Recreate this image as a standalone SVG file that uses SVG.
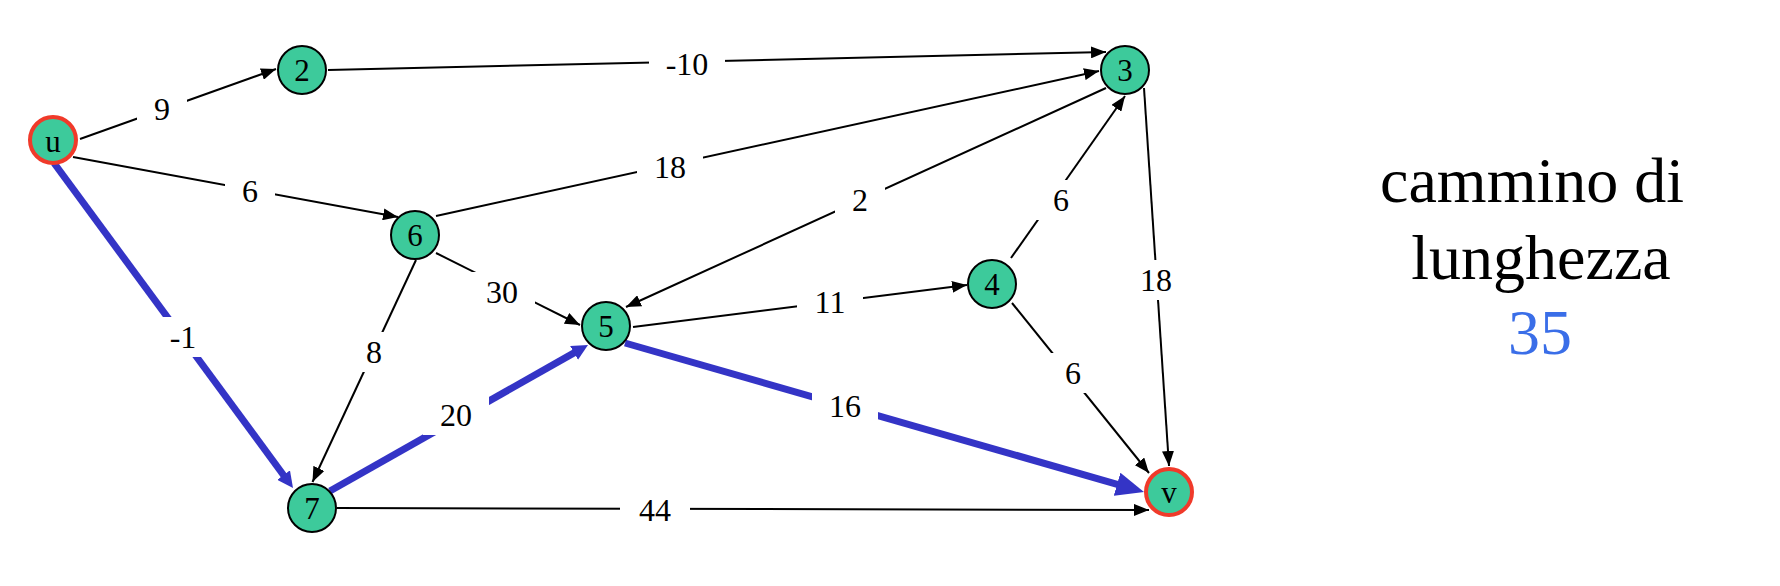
<svg xmlns="http://www.w3.org/2000/svg" width="1780" height="586" viewBox="0 0 1780 586">
<style>
.e{stroke:#000;stroke-width:2;fill:none}
.b{stroke:#3434c6;stroke-width:7;fill:none}
.lb{fill:#fff}
.lt{font-family:"Liberation Serif",serif;font-size:32px;text-anchor:middle;fill:#000}
.n{fill:#3dca9b;stroke:#000;stroke-width:2}
.s{fill:#3dca9b;stroke:#f03a2a;stroke-width:4}
.nt{font-family:"Liberation Serif",serif;font-size:31px;text-anchor:middle;fill:#000}
.big{font-family:"Liberation Serif",serif;font-size:64px;text-anchor:middle;fill:#000}
</style>
<defs>
<marker id="ah" markerUnits="userSpaceOnUse" markerWidth="16" markerHeight="12" refX="15" refY="6" orient="auto"><path d="M0,0 L15,6 L0,12 z" fill="#000"/></marker>
<marker id="bs" markerUnits="userSpaceOnUse" markerWidth="18" markerHeight="16" refX="2" refY="8" orient="auto"><path d="M0,0 L16,8 L0,16 z" fill="#3434c6"/></marker>
<marker id="bb" markerUnits="userSpaceOnUse" markerWidth="30" markerHeight="24" refX="2" refY="12" orient="auto"><path d="M0,0 L28,12 L0,24 z" fill="#3434c6"/></marker>
</defs>
<rect width="1780" height="586" fill="#fff"/>
<g id="connectors">
<g id="e-u-2"><line class="e" x1="80" y1="139" x2="276" y2="69" marker-end="url(#ah)"/><rect class="lb" x="137" y="89" width="50" height="40"/><text class="lt" x="162" y="120">9</text></g>
<g id="e-u-6"><line class="e" x1="73" y1="157" x2="398" y2="217" marker-end="url(#ah)"/><rect class="lb" x="225" y="171" width="50" height="40"/><text class="lt" x="250" y="202">6</text></g>
<g id="e-2-3"><line class="e" x1="328" y1="70" x2="1106" y2="52" marker-end="url(#ah)"/><rect class="lb" x="649" y="44" width="76" height="40"/><text class="lt" x="687" y="75">-10</text></g>
<g id="e-6-3"><line class="e" x1="436" y1="216" x2="1099" y2="71" marker-end="url(#ah)"/><rect class="lb" x="637" y="147" width="66" height="40"/><text class="lt" x="670" y="178">18</text></g>
<g id="e-3-5"><line class="e" x1="1106" y1="88" x2="626" y2="307" marker-end="url(#ah)"/><rect class="lb" x="835" y="180" width="50" height="40"/><text class="lt" x="860" y="211">2</text></g>
<g id="e-4-3"><line class="e" x1="1011" y1="258" x2="1125" y2="96" marker-end="url(#ah)"/><rect class="lb" x="1036" y="180" width="50" height="40"/><text class="lt" x="1061" y="211">6</text></g>
<g id="e-3-v"><line class="e" x1="1144" y1="88" x2="1169" y2="466" marker-end="url(#ah)"/><rect class="lb" x="1123" y="260" width="66" height="40"/><text class="lt" x="1156" y="291">18</text></g>
<g id="e-6-5"><line class="e" x1="436" y1="253" x2="580" y2="325" marker-end="url(#ah)"/><rect class="lb" x="469" y="272" width="66" height="40"/><text class="lt" x="502" y="303">30</text></g>
<g id="e-6-7"><line class="e" x1="416" y1="260" x2="312.5" y2="482" marker-end="url(#ah)"/><rect class="lb" x="349" y="332" width="50" height="40"/><text class="lt" x="374" y="363">8</text></g>
<g id="e-5-4"><line class="e" x1="633" y1="327" x2="967" y2="285" marker-end="url(#ah)"/><rect class="lb" x="797" y="282" width="66" height="40"/><text class="lt" x="830" y="313">11</text></g>
<g id="e-4-v"><line class="e" x1="1012" y1="303" x2="1149" y2="473" marker-end="url(#ah)"/><rect class="lb" x="1048" y="353" width="50" height="40"/><text class="lt" x="1073" y="384">6</text></g>
<g id="e-7-v"><line class="e" x1="337" y1="508" x2="1149" y2="510" marker-end="url(#ah)"/><rect class="lb" x="620" y="490" width="70" height="40"/><text class="lt" x="655" y="521">44</text></g>
<g id="e-u-7"><line class="b" x1="54" y1="163" x2="284.7" y2="476.7" marker-end="url(#bs)"/><rect class="lb" x="153" y="317" width="60" height="40"/><text class="lt" x="183" y="348">-1</text></g>
<g id="e-7-5"><line class="b" x1="330" y1="491" x2="575.8" y2="351.9" marker-end="url(#bs)"/><rect class="lb" x="423" y="395" width="66" height="40"/><text class="lt" x="456" y="426">20</text></g>
<g id="e-5-v"><line class="b" x1="625" y1="343" x2="1119" y2="484.8" marker-end="url(#bb)"/><rect class="lb" x="812" y="386" width="66" height="40"/><text class="lt" x="845" y="417">16</text></g>
</g>
<g id="node-u"><circle class="s" cx="53" cy="140" r="23"/><text class="nt" x="53" y="152">u</text></g>
<g id="node-2"><circle class="n" cx="302" cy="70" r="24"/><text class="nt" x="302" y="81">2</text></g>
<g id="node-3"><circle class="n" cx="1125" cy="70" r="24"/><text class="nt" x="1125" y="81">3</text></g>
<g id="node-6"><circle class="n" cx="415" cy="235" r="24"/><text class="nt" x="415" y="246">6</text></g>
<g id="node-5"><circle class="n" cx="606" cy="326" r="24"/><text class="nt" x="606" y="337">5</text></g>
<g id="node-4"><circle class="n" cx="992" cy="284" r="24"/><text class="nt" x="992" y="295">4</text></g>
<g id="node-7"><circle class="n" cx="312" cy="508" r="24"/><text class="nt" x="312" y="519">7</text></g>
<g id="node-v"><circle class="s" cx="1169" cy="492" r="23"/><text class="nt" x="1169" y="503">v</text></g>
<g id="caption">
<text class="big" x="1532" y="202">cammino di</text>
<text class="big" x="1541" y="279">lunghezza</text>
<text class="big" x="1540" y="354" fill="#3a6ee8" style="fill:#3a6ee8">35</text>
</g>
</svg>
